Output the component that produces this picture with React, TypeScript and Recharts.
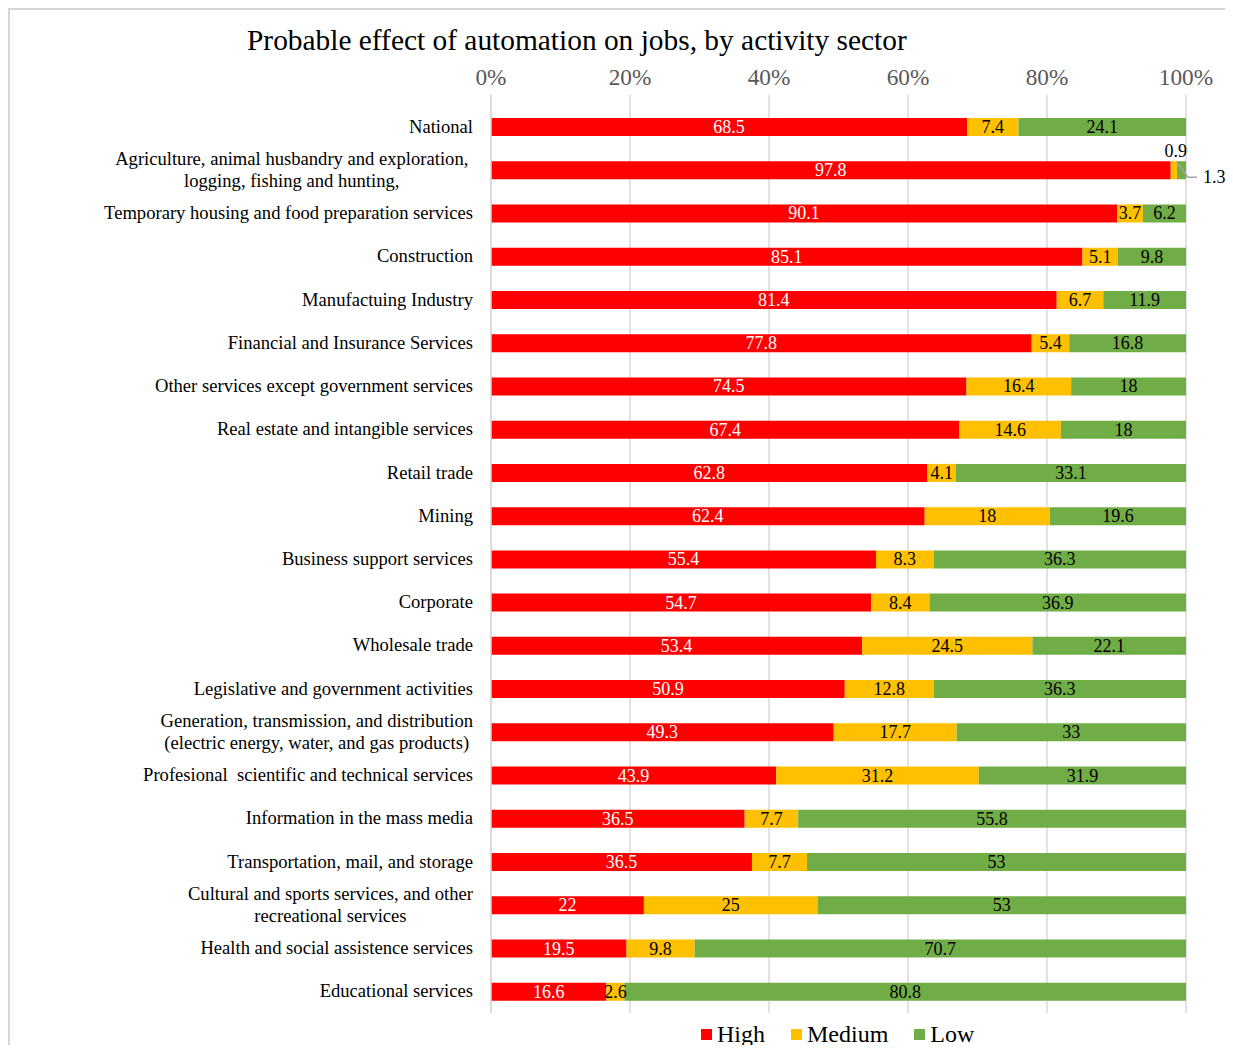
import React from 'react';
import { BarChart, Bar, XAxis, YAxis, CartesianGrid, LabelList } from 'recharts';

/* ── Data ─────────────────────────────────────────────────────────────────── */

const sectors = [
  'National',
  'Agriculture, animal husbandry and exploration,\nlogging, fishing and hunting,',
  'Temporary housing and food preparation services',
  'Construction',
  'Manufactuing Industry',
  'Financial and Insurance Services',
  'Other services except government services',
  'Real estate and intangible services',
  'Retail trade',
  'Mining',
  'Business support services',
  'Corporate',
  'Wholesale trade',
  'Legislative and government activities',
  'Generation, transmission, and distribution\n(electric energy, water, and gas products)',
  'Profesional  scientific and technical services',
  'Information in the mass media',
  'Transportation, mail, and storage',
  'Cultural and sports services, and other\nrecreational services',
  'Health and social assistence services',
  'Educational services',
];

const high = [68.5, 97.8, 90.1, 85.1, 81.4, 77.8, 74.5, 67.4, 62.8, 62.4, 55.4, 54.7, 53.4, 50.9, 49.3, 43.9, 36.5, 36.5, 22, 19.5, 16.6];
const medium = [7.4, 0.9, 3.7, 5.1, 6.7, 5.4, 16.4, 14.6, 4.1, 18, 8.3, 8.4, 24.5, 12.8, 17.7, 31.2, 7.7, 7.7, 25, 9.8, 2.6];
const low = [24.1, 1.3, 6.2, 9.8, 11.9, 16.8, 18, 18, 33.1, 19.6, 36.3, 36.9, 22.1, 36.3, 33, 31.9, 55.8, 53, 53, 70.7, 80.8];

const percentTicks = [0, 0.2, 0.4, 0.6, 0.8, 1];

const data = sectors.map((name, i) => ({ name, high: high[i], medium: medium[i], low: low[i] }));

const FONT = "'Liberation Serif', 'Times New Roman', serif";
const RED = '#FF0000';
const YELLOW = '#FFC000';
const GREEN = '#70AD47';

/* ── Helpers ──────────────────────────────────────────────────────────────── */

let measureCtx: CanvasRenderingContext2D | null = null;
function textWidth(s: string, size: number) {
  if (!measureCtx) measureCtx = document.createElement('canvas').getContext('2d');
  if (!measureCtx) return s.length * size * 0.45;
  measureCtx.font = `${size}px 'Liberation Serif'`;
  return measureCtx.measureText(s).width;
}

function CategoryTick({ x, y, payload }: any) {
  const lines = String(payload.value).split('\n');
  const size = 18.6;
  const right = x - 10;
  if (lines.length === 1) {
    return (
      <text x={right} y={y} dy={6} textAnchor="end" fontSize={size} fontFamily={FONT} fill="#000" style={{ whiteSpace: 'pre' }}>
        {lines[0]}
      </text>
    );
  }
  // Excel keeps the trailing space of a wrapped line, so the block sits a little left
  const w = Math.max(...lines.map((l) => textWidth(l.endsWith(',') && lines[0] === l ? l + '  ' : l, size)));
  const cx = right - w / 2;
  return (
    <text x={cx} y={y} textAnchor="middle" fontSize={size} fontFamily={FONT} fill="#000">
      {lines.map((l, i) => (
        <tspan key={i} x={cx} dy={i === 0 ? -5 : 22}>
          {l}
        </tspan>
      ))}
    </text>
  );
}

function PercentTick({ x, y, payload }: any) {
  return (
    <text x={x} y={y} dy={-2} textAnchor="middle" fontSize={23.3} fontFamily={FONT} fill="#595959">
      {`${Math.round(payload.value * 100)}%`}
    </text>
  );
}

function makeLabel(values: number[], color: string, kind: string) {
  return (props: any) => {
    const { x, y, width, height, index } = props;
    const v = values[index];
    const cy = y + height / 2;
    // tiny slices in the agriculture row get outside labels
    if (kind === 'medium' && v < 1.5) {
      return (
        <text x={x + width / 2 + 2} y={y - 4} textAnchor="middle" fontSize={18} fontFamily={FONT} fill="#000">
          {v}
        </text>
      );
    }
    if (kind === 'low' && v < 1.5) {
      const ex = x + width + 17;
      return (
        <g>
          <polyline points={`${x + width / 2 - 5},${cy - 8} ${x + width + 2},${cy + 7} ${ex - 6},${cy + 7}`} fill="none" stroke="#A6A6A6" strokeWidth={1.5} />
          <text x={ex} y={cy + 7} dy={6} textAnchor="start" fontSize={18} fontFamily={FONT} fill="#000">
            {v}
          </text>
        </g>
      );
    }
    return (
      <text x={x + width / 2} y={cy} dy={6} textAnchor="middle" fontSize={18} fontFamily={FONT} fill={color}>
        {v}
      </text>
    );
  };
}

function LegendBox() {
  const items = [
    { label: 'High', color: RED },
    { label: 'Medium', color: YELLOW },
    { label: 'Low', color: GREEN },
  ];
  return (
    <div
      style={{
        position: 'absolute',
        left: 693,
        top: 1010,
        display: 'flex',
        gap: 26,
        fontFamily: FONT,
        fontSize: 24,
        lineHeight: '32px',
        color: '#000',
      }}
    >
      {items.map((it) => (
        <div key={it.label} style={{ display: 'flex', alignItems: 'center' }}>
          <span style={{ display: 'inline-block', width: 11, height: 11, background: it.color, marginRight: 5 }} />
          {it.label}
        </div>
      ))}
    </div>
  );
}

/* ── Component ────────────────────────────────────────────────────────────── */

export default function App() {
  return (
    <div style={{ position: 'relative', width: 1225, height: 1037, background: '#fff' }}>
      {/* chart-area frame, left and top edges */}
      <div style={{ position: 'absolute', left: 0, top: 0, width: 2, height: 1037, background: '#D6D6D6' }} />
      <div style={{ position: 'absolute', left: 0, top: 0, width: 1225, height: 2, background: '#D6D6D6' }} />
      <div
        style={{
          position: 'absolute',
          left: 239,
          top: 13,
          fontFamily: FONT,
          fontSize: 29.4,
          lineHeight: '38px',
          color: '#000',
          whiteSpace: 'nowrap',
        }}
      >
        Probable effect of automation on jobs, by activity sector
      </div>
      <BarChart
        width={1225}
        height={1037}
        data={data}
        layout="vertical"
        stackOffset="expand"
        barSize={18}
        margin={{ top: 47, right: 47, bottom: 32, left: 0 }}
        style={{ position: 'absolute', left: 0, top: 0, overflow: 'visible' }}
      >
        <CartesianGrid horizontal={false} stroke="#D9D9D9" strokeWidth={1.5} />
        <XAxis
          type="number"
          orientation="top"
          domain={[0, 1]}
          ticks={percentTicks}
          height={40}
          axisLine={false}
          tickLine={false}
          tick={<PercentTick />}
        />
        <YAxis
          type="category"
          dataKey="name"
          width={483}
          padding={{ top: 10, bottom: 0 }}
          axisLine={{ stroke: '#D9D9D9', strokeWidth: 1.5 }}
          tickLine={false}
          interval={0}
          tick={<CategoryTick />}
        />
        <Bar dataKey="high" name="High" stackId="s" fill={RED} isAnimationActive={false}>
          <LabelList dataKey="high" content={makeLabel(high, '#fff', 'high')} />
        </Bar>
        <Bar dataKey="medium" name="Medium" stackId="s" fill={YELLOW} isAnimationActive={false}>
          <LabelList dataKey="medium" content={makeLabel(medium, '#000', 'medium')} />
        </Bar>
        <Bar dataKey="low" name="Low" stackId="s" fill={GREEN} isAnimationActive={false}>
          <LabelList dataKey="low" content={makeLabel(low, '#000', 'low')} />
        </Bar>
      </BarChart>
      <LegendBox />
    </div>
  );
}
